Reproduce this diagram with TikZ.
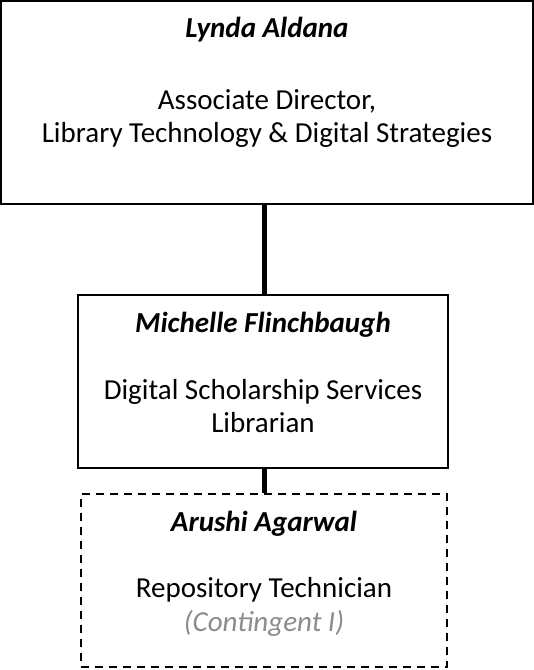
\documentclass[tikz,border=0pt]{standalone}
\usepackage{fontspec}
\setmainfont{Carlito}
\definecolor{contgray}{HTML}{8C8C8C}
\tikzset{
  box/.style={draw=black, line width=2pt, rectangle, inner sep=0pt},
  dashbox/.style={draw=black, line width=2pt, rectangle, inner sep=0pt, dash pattern=on 8pt off 6pt},
  link/.style={line width=5pt, black},
  txt/.style={inner sep=0pt, anchor=center, text height=0.7em, text depth=0.22em, font=\fontsize{29}{34}\selectfont},
  pname/.style={txt, font=\fontsize{29}{34}\selectfont\bfseries\itshape},
  pnote/.style={txt, font=\fontsize{29}{34}\selectfont\itshape, text=contgray}
}
\begin{document}
\begin{tikzpicture}[x=1pt,y=-1pt]
\useasboundingbox (0,0) rectangle (534,670);
\node[box, minimum width=532pt, minimum height=203pt] (top) at (267,102.5) {};
\node[box, minimum width=370pt, minimum height=173pt] (mid) at (263,381.5) {};
\node[dashbox, minimum width=366pt, minimum height=173pt] (bot) at (264,580.5) {};
\draw[link] (top.south -| 264,0) -- (mid.north -| 264,0);
\draw[link] (mid.south -| 264,0) -- (bot.north -| 264,0);
\node[pname] (n1) at (267,35) {Lynda Aldana};
\node[txt] (t1a) at (267,107) {Associate Director,};
\node[txt] (t1b) at (267,140) {Library Technology \& Digital Strategies};
\node[pname] (n2) at (263,330) {Michelle Flinchbaugh};
\node[txt] (t2a) at (263,397) {Digital Scholarship Services};
\node[txt] (t2b) at (263,430) {Librarian};
\node[pname] (n3) at (264,529) {Arushi Agarwal};
\node[txt] (t3a) at (264,595) {Repository Technician};
\node[pnote] (t3b) at (264,629) {(Contingent I)};
\end{tikzpicture}
\end{document}
